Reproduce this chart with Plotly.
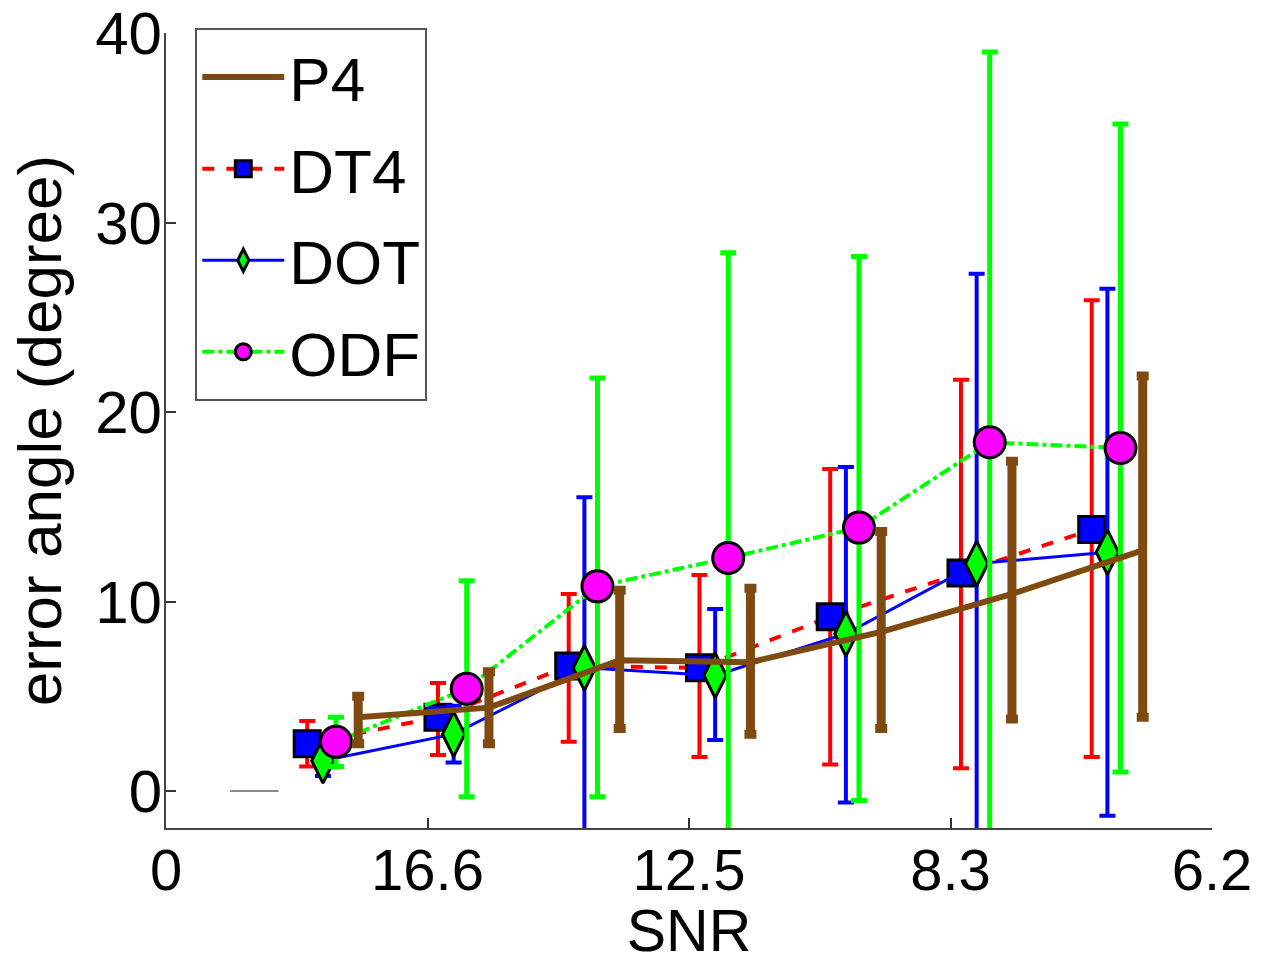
import plotly.graph_objects as go

# ---------------- data ----------------
group_pos = [0.5, 1.0, 1.5, 2.0, 2.5, 3.0, 3.5]
tick_vals = [0, 1, 2, 3, 4]
tick_text = ["0", "16.6", "12.5", "8.3", "6.2"]

# x offsets of each method inside a group (x units)
off_dt4, off_dot, off_odf, off_p4 = 0.04, 0.10, 0.15, 0.235

p4_mean = [3.9, 4.4, 6.9, 6.8, 8.4, 10.4, 12.7]
p4_up = [5.0, 6.3, 10.6, 10.7, 13.7, 17.4, 21.9]
p4_lo = [2.5, 2.5, 3.3, 3.0, 3.3, 3.8, 3.9]

dt4_mean = [2.5, 3.9, 6.6, 6.5, 9.2, 11.5, 13.8]
dt4_up = [3.7, 5.7, 10.4, 11.4, 17.0, 21.7, 25.9]
dt4_lo = [1.3, 1.9, 2.6, 1.8, 1.4, 1.2, 1.8]

dot_mean = [1.6, 3.0, 6.5, 6.1, 8.3, 12.0, 12.6]
dot_up = [2.4, 4.5, 15.5, 9.6, 17.1, 27.3, 26.5]
dot_lo = [0.8, 1.5, -2.5, 2.7, -0.6, -3.3, -1.3]

odf_mean = [2.6, 5.4, 10.8, 12.3, 13.9, 18.4, 18.1]
odf_up = [3.9, 11.1, 21.8, 28.4, 28.2, 39.0, 35.2]
odf_lo = [1.3, -0.3, -0.3, -3.8, -0.5, -2.2, 1.0]

base_x = [0.245, 0.43]
base_y = [0, 0]

# ---------------- figure ----------------
FONT = "Liberation Sans, Arial, Helvetica, sans-serif"
BROWN = "#7f4a0f"


def xs(off):
    return [g + off for g in group_pos]


def err(mean, up, lo, color, thick, width):
    return dict(type="data", symmetric=False,
                array=[u - m for u, m in zip(up, mean)],
                arrayminus=[m - l for m, l in zip(mean, lo)],
                color=color, thickness=thick, width=width)


fig = go.Figure()

fig.add_trace(go.Scatter(x=base_x, y=base_y, mode="lines",
                         line=dict(color="#8a8a8a", width=2),
                         showlegend=False, hoverinfo="skip"))

fig.add_trace(go.Scatter(
    x=xs(off_dt4), y=dt4_mean, name="DT4", legendrank=2, legendgroup="b",
    mode="lines+markers",
    line=dict(color="#ff0000", width=4, dash="dash"),
    marker=dict(symbol="square", size=26, color="#0000ff",
                line=dict(color="black", width=3)),
    error_y=err(dt4_mean, dt4_up, dt4_lo, "#ff0000", 4, 8)))

fig.add_trace(go.Scatter(
    x=xs(off_dot), y=dot_mean, name="DOT", legendrank=3, legendgroup="c",
    mode="lines+markers",
    line=dict(color="#0000ff", width=3),
    marker=dict(symbol="diamond-tall", size=32, color="#00ff00",
                line=dict(color="black", width=3)),
    error_y=err(dot_mean, dot_up, dot_lo, "#0000ff", 4, 8)))

fig.add_trace(go.Scatter(
    x=xs(off_odf), y=odf_mean, name="ODF", legendrank=4, legendgroup="d",
    mode="lines+markers",
    line=dict(color="#00ff00", width=4, dash="dashdot"),
    marker=dict(symbol="circle", size=31, color="#ff00ff",
                line=dict(color="black", width=3)),
    error_y=err(odf_mean, odf_up, odf_lo, "#00ff00", 5, 8)))

fig.add_trace(go.Scatter(
    x=xs(off_p4), y=p4_mean, name="P4", legendrank=1, legendgroup="a",
    mode="lines",
    line=dict(color=BROWN, width=6),
    error_y=err(p4_mean, p4_up, p4_lo, BROWN, 9, 6)))

fig.update_layout(
    width=1278, height=964,
    margin=dict(l=166, r=66, t=33, b=136, autoexpand=False),
    paper_bgcolor="white", plot_bgcolor="white",
    font=dict(family=FONT, size=60, color="black"),
    showlegend=True,
    legend=dict(x=0.028, y=1.006, xanchor="left", yanchor="top",
                bgcolor="white", bordercolor="#555555", borderwidth=2,
                font=dict(family=FONT, size=62, color="black"),
                itemwidth=82, tracegroupgap=8, traceorder="grouped"),
)

fig.update_xaxes(range=[0, 4], tickmode="array", tickvals=tick_vals,
                 ticktext=tick_text, ticks="inside", ticklen=10,
                 tickcolor="#333333", tickwidth=1.5, showline=True,
                 linecolor="#444444", linewidth=2, showgrid=False,
                 zeroline=False, tickfont=dict(size=58), automargin=False,
                 ticklabelstandoff=-10,
                 title=dict(text="SNR", font=dict(size=59), standoff=10))

fig.update_yaxes(range=[-1.95, 40], tickmode="array",
                 tickvals=[0, 10, 20, 30, 40], ticks="inside", ticklen=10,
                 tickcolor="#333333", tickwidth=1.5, showline=True,
                 linecolor="#444444", linewidth=2, showgrid=False,
                 zeroline=False, tickfont=dict(size=60), automargin=False,
                 ticklabelstandoff=-10,
                 title=dict(text="error angle (degree)", font=dict(size=62),
                            standoff=14))

fig.write_html("out.html",
               config={"displayModeBar": False},
               post_script="document.body.style.margin='0px';"
                           "document.body.style.padding='0px';")
